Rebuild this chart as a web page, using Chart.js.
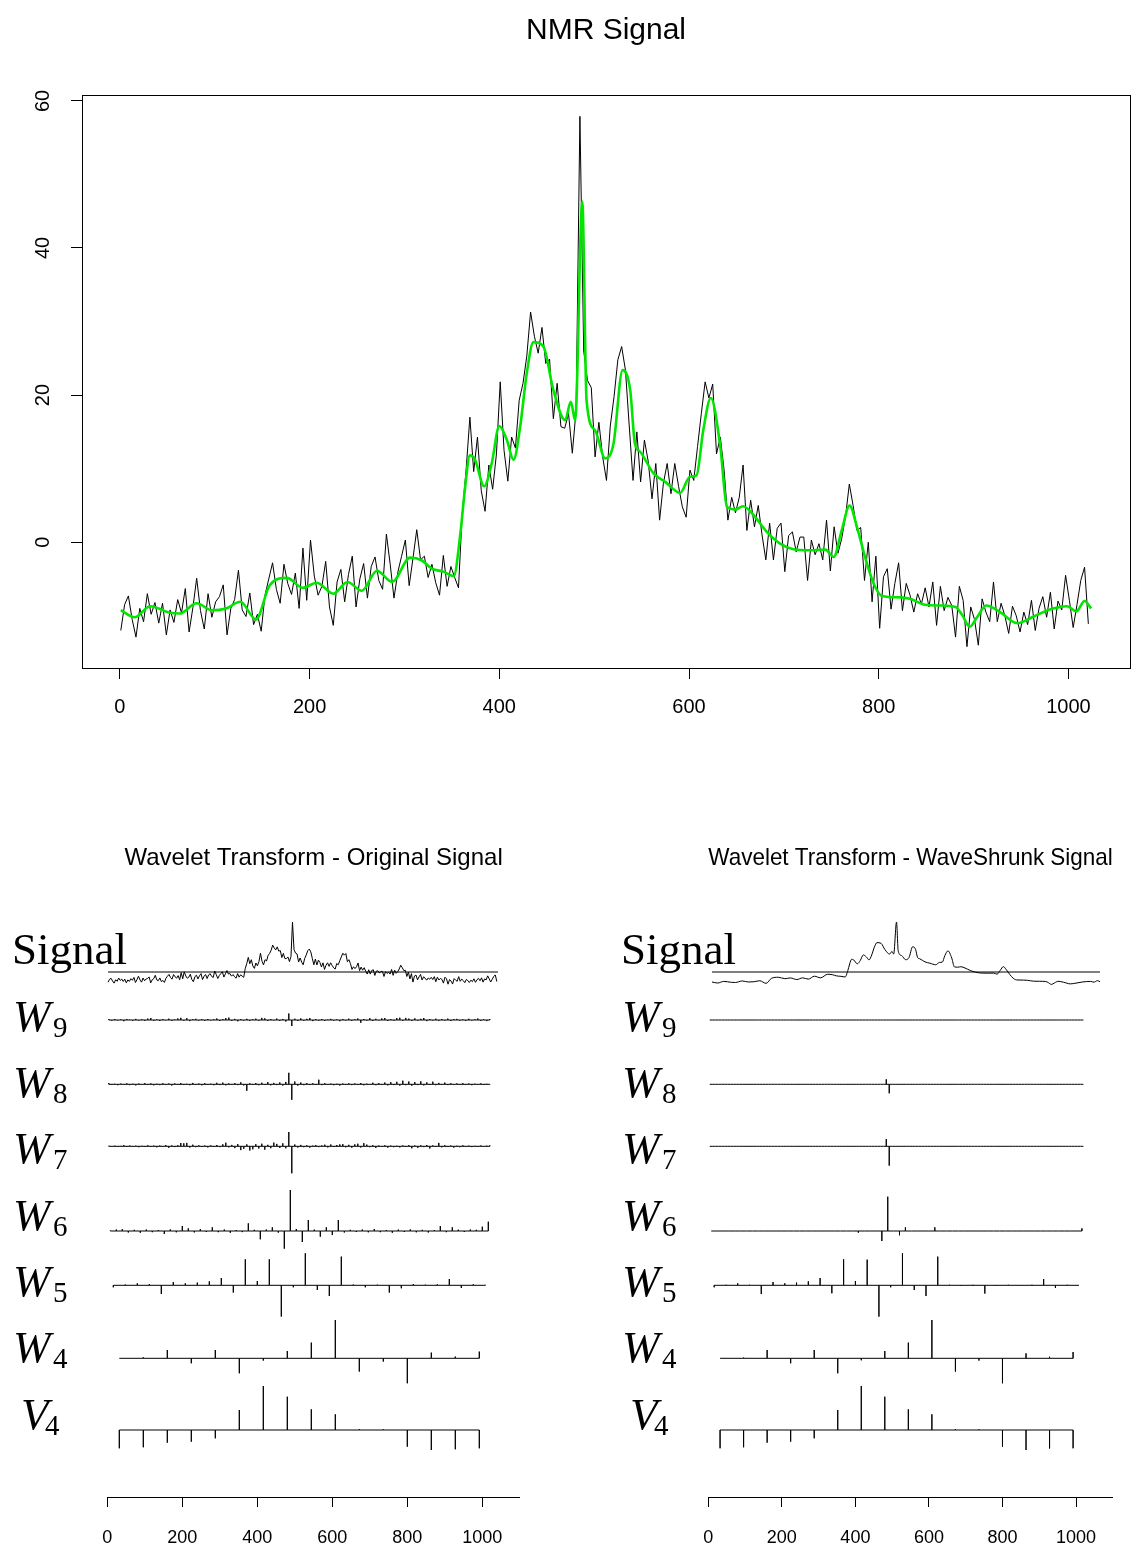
<!DOCTYPE html>
<html>
<head>
<meta charset="utf-8">
<title>NMR Signal</title>
<script src="https://cdn.jsdelivr.net/npm/chart.js@4.4.1/dist/chart.umd.min.js"></script>
<style>
  html, body { margin: 0; padding: 0; background: #fff; }
  #page { position: relative; width: 1140px; height: 1547px; overflow: hidden; }
  canvas { position: absolute; }
  #nmrChart { left: 0; top: 0; }
  #origChart { left: 0; top: 800px; }
  #shrunkChart { left: 600px; top: 800px; }
</style>
</head>
<body>
<div id="page">
  <canvas id="nmrChart" width="1140" height="760"></canvas>
  <canvas id="origChart" width="600" height="747"></canvas>
  <canvas id="shrunkChart" width="540" height="747"></canvas>
</div>
<script>
// Values

const SIGNAL_LENGTH = 1024;
const SIGNAL_STEP = 4;   // noisy trace read at every 4th sample, starting at sample 1

const nmrSignal = [
  -12.0, -8.5, -7.3, -10.5, -12.9, -9.0, -10.8, -7.0, -9.8, -8.2,
  -11.0, -8.3, -12.6, -9.2, -10.9, -7.8, -9.6, -6.3, -12.2, -8.9,
  -4.9, -9.3, -11.8, -7.0, -10.2, -8.1, -7.4, -5.8, -12.6, -9.0,
  -7.8, -3.8, -9.2, -10.1, -6.9, -11.2, -9.8, -12.1, -7.2, -5.0,
  -2.8, -6.4, -8.3, -3.0, -5.6, -7.1, -4.2, -9.0, -0.8, -7.9,
  0.3, -4.6, -7.2, -6.0, -2.6, -8.8, -11.3, -5.4, -3.7, -8.1,
  -4.4, -1.9, -8.8, -5.0, -2.9, -7.6, -3.3, -2.0, -5.2, -6.4,
  1.1, -3.0, -7.6, -4.1, -1.9, 0.3, -5.9, -2.2, 1.7, -2.4,
  -1.9, -4.8, -3.0, -5.5, -7.2, -1.8, -6.0, -3.3, -4.8, -6.2,
  4.0, 9.8, 17.0, 9.6, 14.3, 7.0, 4.2, 10.5, 7.2, 12.0,
  21.8, 12.5, 8.3, 14.3, 12.8, 19.3, 21.6, 25.3, 31.3, 28.0,
  25.7, 29.2, 24.3, 24.9, 16.8, 21.6, 15.7, 15.5, 17.5, 12.1,
  18.0, 57.9, 26.0, 22.0, 21.0, 11.6, 16.3, 11.6, 8.4, 15.8,
  19.8, 24.8, 26.6, 23.4, 15.8, 8.4, 15.0, 8.2, 13.9, 11.0,
  5.9, 10.7, 3.0, 8.0, 10.7, 6.6, 10.7, 7.6, 4.8, 3.4,
  9.8, 8.4, 13.0, 17.5, 21.8, 19.6, 21.5, 12.0, 14.3, 9.8,
  3.0, 6.1, 4.0, 6.1, 10.5, 1.6, 5.7, 2.1, 5.0, 1.0,
  -2.4, 2.6, -2.4, 1.9, 2.6, -4.0, 0.9, 1.4, -1.3, 0.7,
  0.7, -5.2, 0.3, -1.7, -0.2, -2.4, 3.0, -3.9, 2.1, -1.5,
  0.5, 3.5, 7.9, 5.0, 1.6, 2.0, -5.2, 0.0, -8.1, -1.9,
  -11.7, -4.7, -3.6, -9.1, -5.6, -2.8, -9.3, -5.6, -7.2, -9.5,
  -7.0, -8.4, -6.2, -8.8, -5.4, -11.3, -6.0, -9.3, -7.5, -8.6,
  -12.9, -6.0, -7.9, -14.2, -8.8, -10.5, -14.0, -7.7, -9.5, -10.8,
  -5.4, -10.8, -8.3, -10.0, -12.4, -8.7, -10.0, -12.2, -9.5, -11.2,
  -7.9, -12.0, -9.0, -7.4, -10.2, -6.8, -11.8, -8.0, -9.2, -4.5,
  -7.9, -11.6, -8.5, -5.2, -3.4, -11.1
];

// WaveShrunk (green) signal, read at its turning points
const shrunkX = [
  1, 16, 32, 53, 63, 81, 97, 112, 127, 143.5, 158, 176, 193, 207.5, 225, 240, 255, 271, 287, 306,
  318, 329, 341, 352, 359, 364, 369, 374.5, 384, 392, 400, 408, 415, 422, 429, 436, 446.5, 457, 469.4, 475.4,
  480, 487.5, 492, 501, 511.6, 520.4, 530, 538, 543, 548.5, 562.6, 575, 590.7, 601, 608, 615, 623, 633, 640, 648.7,
  657, 668, 682, 696, 710, 728, 743.7, 752.5, 761, 769.3, 777, 786, 794.6, 803.5, 822.8, 833, 849, 865, 881, 888,
  896, 903.6, 913.5, 928, 946, 963.4, 979, 998.6, 1008.4, 1017, 1024
];
const shrunkY = [
  -9.25, -10.2, -8.7, -9.6, -9.7, -8.3, -9.25, -9.0, -8.1, -10.5, -5.85, -4.85, -6.2, -5.5, -7.0, -5.4, -6.6, -3.9, -5.4, -2.1,
  -2.45, -3.6, -4.0, -4.6, 1.2, 7.5, 11.8, 11.2, 7.6, 10.7, 15.8, 13.9, 11.2, 15.7, 23.0, 27.2, 26.6, 20.7, 16.6, 19.1,
  16.6, 46.3, 19.3, 15.2, 11.4, 13.4, 23.4, 20.7, 13.4, 12.3, 9.35, 8.2, 6.7, 8.9, 9.1, 15.2, 19.6, 13.0, 4.8, 4.45,
  4.9, 3.7, 1.4, -0.2, -0.95, -1.1, -1.0, -2.0, 1.6, 5.0, 2.1, -2.2, -5.6, -7.3, -7.5, -7.7, -8.5, -8.6, -8.8, -9.9,
  -11.5, -10.2, -8.6, -9.5, -11.0, -10.1, -9.2, -8.7, -9.4, -8.0, -9.0
];

const xTicks = [0, 200, 400, 600, 800, 1000];
const yTicks = [0, 20, 40, 60];

// Wavelet coefficients of the original signal (heights as drawn, up = positive)
const origW9 = [
  0.8, -0.6, 1.0, -0.4, 0.6, -1.2, 0.9, 0.3, -0.7, 1.1, -0.5, 0.7, -0.9, 1.4, 2.0, -0.8,
  0.6, -1.0, 0.9, -0.3, 1.3, -0.7, 0.5, 1.6, 2.2, -0.6, 1.8, -1.1, 0.7, 1.2, -0.5, 0.9,
  -0.8, 1.0, -0.4, 0.6, 1.5, -0.9, 0.8, 1.9, 2.4, -0.7, 1.1, -1.3, 0.8, -0.5, 1.2, -0.9,
  0.7, 1.3, -0.6, 2.1, 1.7, -1.0, 0.9, -0.4, 1.4, -0.8, 1.0, -1.5, 6.5, -6.0, 1.3, -0.9,
  1.6, -0.7, 1.2, 2.0, -1.1, 0.8, -0.6, 1.0, -0.9, 0.5, 1.1, -0.7, 0.6, -1.2, 0.9, -0.5,
  1.3, -0.8, 0.7, 1.5, -2.8, 1.0, -0.6, 1.8, -0.9, 1.2, -0.4, 1.6, 2.0, -1.0, 0.8, -0.7,
  1.9, 2.3, -0.8, 2.1, 1.4, -0.9, 1.7, -0.6, 1.2, 2.0, -1.1, 0.9, -0.5, 1.3, -0.8, 1.0,
  -0.6, 1.4, -1.0, 0.8, 1.1, -0.7, 0.6, -0.9, 1.2, -0.5, 0.7, 1.5, -0.8, 0.6, -1.1, 0.9
];
const origW8 = [
  1.2, -0.6, 0.5, -0.9, 0.7, -0.5, 1.0, -0.8, 0.6, -1.1, 0.8, -0.4, 1.2, -0.7, 0.9, -1.0,
  0.6, -0.8, 1.1, -0.5, 0.8, -1.2, 0.9, -0.6, 1.3, -0.7, 0.5, -0.9, 1.4, -0.6, 0.8, -1.0,
  1.1, -0.7, 0.6, -0.9, 1.5, -0.8, 1.7, -1.0, 0.9, -0.6, 1.2, -0.8, 2.0, -1.1, -6.5, 1.0,
  -0.7, 1.3, -0.9, 1.6, -0.6, 2.2, -1.0, 1.4, -0.8, 1.9, -1.2, 2.4, 11.5, -15.5, 2.8, -1.3,
  1.8, -0.9, 1.2, -0.7, 1.0, -0.6, 4.6, -0.8, 1.1, -0.5, 0.7, -0.9, 0.6, -1.2, 0.8, -0.7,
  1.0, -0.8, 0.9, -0.6, 1.3, -1.0, 0.7, -0.5, 1.6, -0.9, 1.2, -0.6, 1.8, -1.1, 2.1, -0.8,
  2.5, -1.3, 3.6, -0.9, 2.8, -1.4, 2.2, -0.8, 3.0, -1.1, 1.9, -0.7, 2.6, -0.9, 1.4, -0.6,
  1.7, -0.8, 1.1, -0.5, 0.9, -0.7, 1.2, -0.6, 0.8, -0.9, 0.6, -0.5, 0.9, -0.7, 0.5, -0.4
];
const origW7 = [
  0.5, -0.4, 0.6, -0.5, 0.4, 1.2, -0.6, 0.8, -0.5, 0.6, -0.9, 0.5, -0.7, 1.0, -0.6, 0.7,
  -1.0, 0.8, -0.6, 1.2, -1.5, 0.9, -0.8, 1.1, 3.3, 3.0, 3.4, -1.2, 1.6, -0.9, 1.0, -0.7,
  0.8, -1.1, 0.9, -0.6, 1.3, -0.8, 2.0, 3.6, -1.0, 1.4, -1.8, 2.2, -3.8, -2.5, 1.9, -4.2,
  -3.0, 2.1, -2.2, 2.6, -3.4, 1.5, -1.9, 3.7, 2.4, -1.6, 3.0, -2.0, 14.3, -27.0, 1.8, -1.2,
  1.4, -0.9, 1.0, -1.3, 0.7, 1.2, -0.8, 0.9, 1.6, -1.1, 1.8, -0.7, 1.3, 1.9, 2.2, -1.0,
  1.5, -1.4, 2.0, 2.6, -1.2, 3.2, 1.7, -0.9, 1.1, -1.6, 0.8, -0.6, 1.0, -1.3, 0.7, -0.9,
  0.6, -1.1, 0.9, -0.7, 1.2, -2.0, 0.8, -1.5, 1.0, -0.8, 1.3, -2.2, 0.9, -0.6, 3.4, -1.0,
  1.1, -0.7, 0.8, -1.3, 0.6, -0.9, 1.0, -0.5, 0.7, -0.8, 0.5, -0.6, 0.8, -0.4, 0.6, 0.9
];
const origW6 = [
  0.5, 1.5, 1.8, -1.5, 1.2, -1.8, 1.5, -1.2, 1.0, -3.0, 1.6, -1.3, 5.0, 2.7, -1.4, 1.8,
  -1.0, 3.7, -1.2, 1.5, -1.8, 1.0, -1.1, 7.7, 1.2, -8.3, 1.5, 3.7, -1.6, -17.7, 41.0, 2.0,
  -11.0, 11.0, 1.4, -5.7, 3.7, -4.0, 11.0, -1.5, 1.2, -1.0, 1.5, -1.3, 2.0, -1.2, 1.0, -1.8,
  1.4, -1.0, 1.6, -1.3, 1.2, -1.5, 1.0, 5.0, -1.2, 3.7, 1.3, -1.0, 1.5, 1.2, 4.3, 9.3
];
const origW5 = [
  -2.0, 0.8, 2.0, 1.2, -8.7, 3.3, 2.0, 2.7, 4.0, 7.3, -7.3, 26.0, 4.3, 26.0, -31.3, -2.0,
  32.0, -4.7, -10.7, 28.7, 0.8, -2.0, 0.6, -7.3, -3.0, 1.3, 0.6, 1.0, 6.3, -2.7, 1.0, 0.5
];
const origW4 = [0, 1.0, 8.3, -5.0, 8.3, -15.0, -2.3, 7.3, 15.7, 38.3, -13.3, -3.3, -25.0, 5.7, 1.7, 6.7];
const origV4 = [-18.3, -17.3, -12.7, -11.7, -8.3, 20.0, 44.0, 33.3, 20.7, 15.7, 0.8, 0.6, -16.7, -20.0, -19.3, -18.3];

// Coefficients after shrinkage: the finest levels are almost all zero
const shrunkW9 = { n: 128, spikes: {} };
const shrunkW8 = { n: 128, spikes: { 60: 5.0, 61: -9.0 } };
const shrunkW7 = { n: 128, spikes: { 60: 7.3, 61: -19.3 } };
const shrunkW6 = { n: 64, spikes: { 25: -1.7, 29: -10.0, 30: 34.3, 32: -4.3, 33: 3.7, 38: 3.7, 63: 2.7 } };
const shrunkW5 = [
  -2.0, 0.5, 2.0, 0.5, -8.7, 3.3, 2.0, 2.7, 4.0, 7.3, -8.0, 26.0, 4.3, 25.7, -31.3, -2.0,
  32.0, -4.7, -10.7, 28.7, 0.5, -0.7, 0.5, -8.3, -0.5, 0.5, 0.3, 0.5, 6.3, -2.7, 0.5, 0
];
const shrunkW4 = [0, 0.7, 8.3, -5.0, 8.3, -15.0, -2.0, 7.3, 15.7, 38.3, -13.3, -2.3, -25.0, 5.0, 1.5, 6.3];
const shrunkV4 = [-18.3, -17.3, -12.7, -11.7, -8.3, 20.0, 44.0, 33.3, 20.7, 15.7, 0.8, 0.6, -16.7, -20.0, -18.5, -18.3];

// Layout of the wavelet panels, page pixels (bottom axis sits at AXIS_Y)
const AXIS_Y = 1497;
const ROW_ZERO_Y = [972, 1020, 1084.3, 1146.3, 1231, 1285.3, 1358.3, 1430];
const LABEL_BASE_Y = [964, 1031, 1097, 1163, 1230, 1296, 1362, 1429];
const ROW_NAMES = [
  { name: 'Signal' },
  { name: 'W', sub: '9' }, { name: 'W', sub: '8' }, { name: 'W', sub: '7' },
  { name: 'W', sub: '6' }, { name: 'W', sub: '5' }, { name: 'W', sub: '4' },
  { name: 'V', sub: '4', dx: 8 }
];
const ROW_OFFSETS = ROW_ZERO_Y.map(y => AXIS_Y - y);

Chart.defaults.font.family = '"Liberation Sans", Arial, Helvetica, sans-serif';
Chart.defaults.color = '#000';

const expand = s => Array.from({ length: s.n }, (_, k) => s.spikes[k] || 0);

// each coefficient sits at the centre of its support; baseline joins them
function spikePoints(values, offset) {
  const width = SIGNAL_LENGTH / values.length;
  const pts = [];
  values.forEach((v, k) => {
    const x = width * (k + 0.5);
    pts.push({ x: x, y: offset }, { x: x, y: offset + v }, { x: x, y: offset });
  });
  return pts;
}

const plotBox = {
  id: 'plotBox',
  afterDraw(chart) {
    const { ctx, chartArea: a } = chart;
    ctx.save();
    ctx.strokeStyle = '#000';
    ctx.lineWidth = 1;
    ctx.strokeRect(Math.round(a.left) + 0.5, Math.round(a.top) + 0.5,
      Math.round(a.right - a.left), Math.round(a.bottom - a.top));
    ctx.restore();
  }
};

const SERIF = '"Liberation Serif", "DejaVu Serif", serif';
const rowLabels = {
  id: 'rowLabels',
  afterDraw(chart, args, opts) {
    const ctx = chart.ctx;
    const y = chart.scales.y;
    ctx.save();
    ctx.fillStyle = '#000';
    ctx.textBaseline = 'alphabetic';
    ROW_NAMES.forEach((r, i) => {
      const base = y.getPixelForValue(AXIS_Y - LABEL_BASE_Y[i]);
      const x = opts.x + (r.dx || 0);
      if (r.sub) {
        ctx.font = 'italic 45px ' + SERIF;
        ctx.fillText(r.name, x, base);
        ctx.font = '29px ' + SERIF;
        ctx.fillText(r.sub, x + (r.name === 'W' ? 40 : 24), base + 6);
      } else {
        ctx.font = '45px ' + SERIF;
        ctx.fillText(r.name, x - 1, base);
      }
    });
    ctx.restore();
  }
};

// ---- top panel -------------------------------------------------------------
new Chart(document.getElementById('nmrChart'), {
  type: 'line',
  data: {
    datasets: [
      {
        label: 'WaveShrunk',
        data: shrunkX.map((x, i) => ({ x: x, y: shrunkY[i] })),
        borderColor: '#00e600',
        borderWidth: 2.6,
        pointRadius: 0,
        cubicInterpolationMode: 'monotone'
      },
      {
        label: 'NMR',
        data: nmrSignal.map((v, i) => ({ x: 1 + i * SIGNAL_STEP, y: v })),
        borderColor: '#000',
        borderWidth: 1,
        pointRadius: 0,
        tension: 0
      }
    ]
  },
  options: {
    responsive: false,
    animation: false,
    layout: { padding: { left: 0, right: 10, top: 0, bottom: 0 } },
    plugins: {
      legend: { display: false },
      tooltip: { enabled: false },
      title: {
        display: true,
        text: 'NMR Signal',
        fullSize: false,
        color: '#000',
        font: { size: 30, weight: 'normal' },
        padding: { top: 13, bottom: 46 }
      }
    },
    scales: {
      x: {
        type: 'linear',
        min: -39.9,
        max: 1064.9,
        afterBuildTicks: s => { s.ticks = xTicks.map(v => ({ value: v })); },
        afterFit: s => { s.height = 92; },
        grid: { drawOnChartArea: false, drawTicks: true, tickLength: 11, color: '#000' },
        border: { display: false },
        ticks: { font: { size: 20 }, padding: 16, maxRotation: 0, autoSkip: false, callback: v => String(v) }
      },
      y: {
        type: 'linear',
        min: -17.1,
        max: 60.8,
        afterBuildTicks: s => { s.ticks = yTicks.map(v => ({ value: v })); },
        afterFit: s => { s.width = 82; },
        grid: { drawOnChartArea: false, drawTicks: true, tickLength: 11, color: '#000' },
        border: { display: false },
        ticks: { font: { size: 20 }, padding: 16, minRotation: 90, maxRotation: 90, crossAlign: 'center', callback: v => String(v) }
      }
    }
  },
  plugins: [plotBox]
});

// ---- wavelet panels --------------------------------------------------------
function waveletPanel(id, title, signalData, sigScale, coefRows, xsRange, padLeft, padRight, labelX) {
  const datasets = [];
  const line = { borderColor: '#000', borderWidth: 1, pointRadius: 0, tension: 0, fill: false };
  datasets.push(Object.assign({
    xAxisID: 'xs',
    data: [{ x: 1, y: ROW_OFFSETS[0] }, { x: SIGNAL_LENGTH, y: ROW_OFFSETS[0] }]
  }, line));
  datasets.push(Object.assign({
    xAxisID: 'xs',
    data: signalData.map(p => ({ x: p.x, y: ROW_OFFSETS[0] + p.y * sigScale }))
  }, line, signalData.smooth ? { cubicInterpolationMode: 'monotone' } : {}));
  coefRows.forEach((vals, i) => {
    datasets.push(Object.assign({ xAxisID: 'x', data: spikePoints(vals, ROW_OFFSETS[i + 1]) }, line));
  });

  return new Chart(document.getElementById(id), {
    type: 'line',
    data: { datasets: datasets },
    options: {
      responsive: false,
      animation: false,
      layout: { padding: { left: padLeft, right: padRight, top: 0, bottom: 0 } },
      plugins: {
        legend: { display: false },
        tooltip: { enabled: false },
        title: {
          display: true,
          text: title,
          fullSize: false,
          color: '#000',
          font: { size: 24, weight: 'normal' },
          padding: { top: 43.6, bottom: 27.6 }
        },
        rowLabels: { x: labelX }
      },
      scales: {
        x: {
          type: 'linear',
          min: 0,
          max: 1100,
          afterBuildTicks: s => { s.ticks = xTicks.map(v => ({ value: v })); },
          afterFit: s => { s.height = 50; },
          grid: { drawOnChartArea: false, drawTicks: true, tickLength: 10, color: '#000' },
          border: { display: true, color: '#000' },
          ticks: { font: { size: 18 }, padding: 20, maxRotation: 0, autoSkip: false, callback: v => String(v) }
        },
        xs: { type: 'linear', display: false, min: xsRange[0], max: xsRange[1] },
        y: { type: 'linear', display: false, min: 0, max: 597 }
      }
    },
    plugins: [rowLabels]
  });
}

const origTrace = nmrSignal.map((v, i) => ({ x: 1 + i * SIGNAL_STEP, y: v }));
const shrunkTrace = shrunkX.map((x, i) => ({ x: x, y: shrunkY[i] }));
shrunkTrace.smooth = true;

waveletPanel('origChart', 'Wavelet Transform - Original Signal', origTrace, 0.86,
  [origW9, origW8, origW7, origW6, origW5, origW4, origV4],
  [-0.84, 1081.3], 107.3, 80.2, 13);

waveletPanel('shrunkChart', 'Wavelet Transform - WaveShrunk Signal', shrunkTrace, 1.08,
  [expand(shrunkW9), expand(shrunkW8), expand(shrunkW7), expand(shrunkW6), shrunkW5, shrunkW4, shrunkV4],
  [-8.75, 1057.7], 108.3, 27.2, 22);
</script>
</body>
</html>
